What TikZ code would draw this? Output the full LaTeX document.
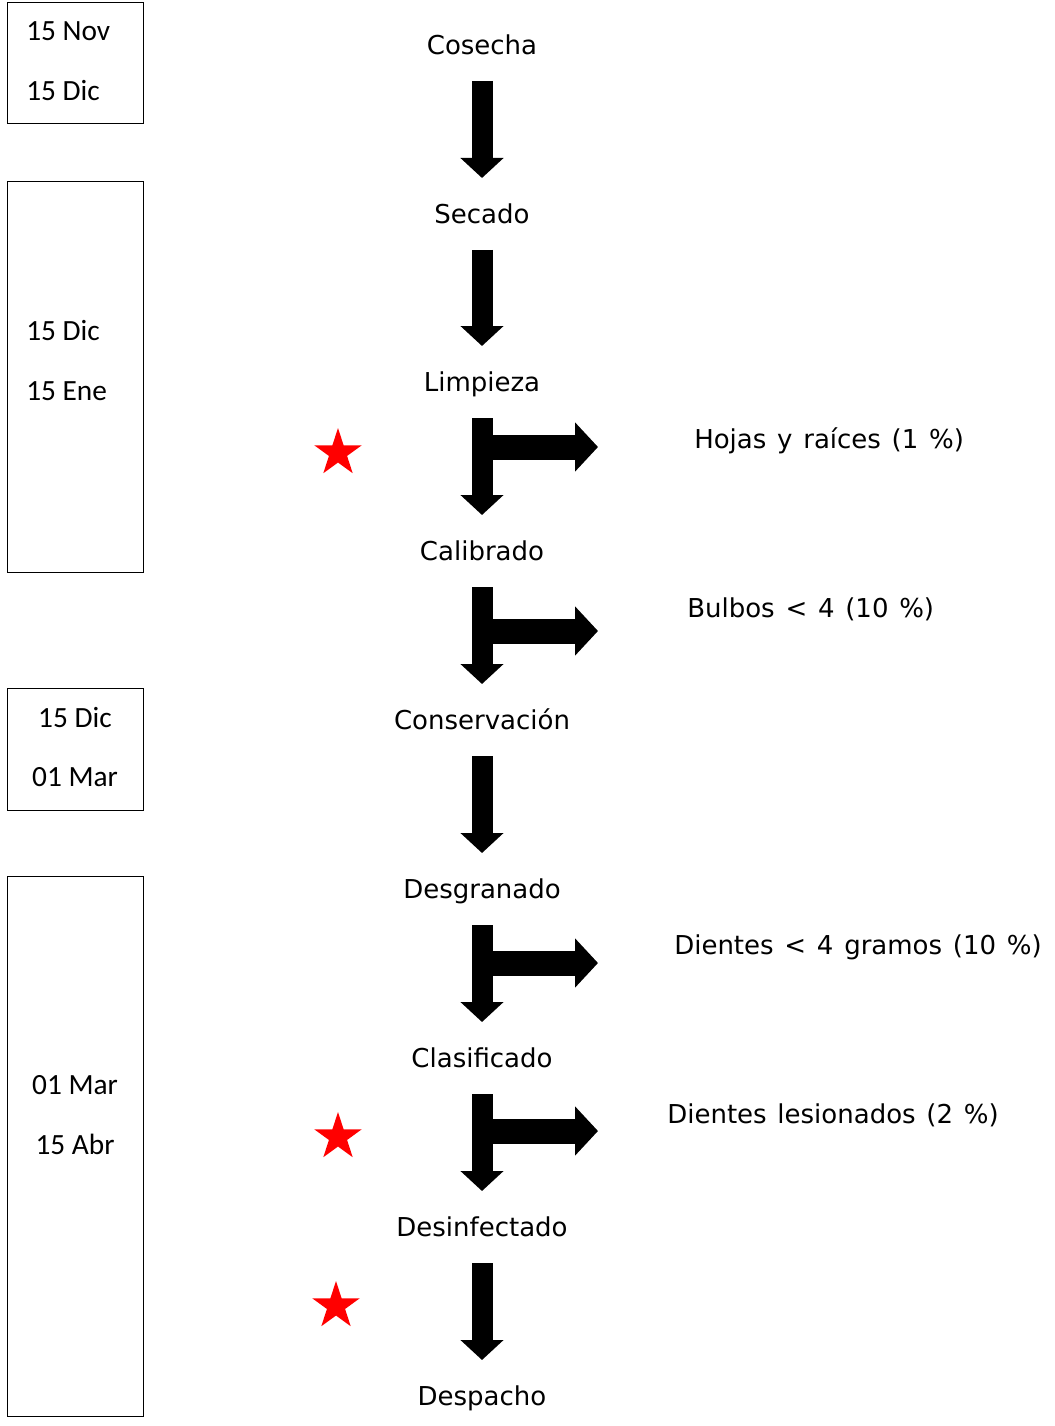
\documentclass[tikz,border=0pt]{standalone}
\usepackage{fontspec}
\setmainfont{DejaVu Sans}[WordSpace=1.3]
\newfontfamily\datefont{Carlito}
\usetikzlibrary{arrows.meta,shapes.geometric}

\begin{document}
\begin{tikzpicture}[x=0.75pt, y=-0.75pt,
  stepnode/.style={inner sep=0pt, text height=14.2pt, text depth=0pt, font=\fontsize{19.5}{23}\selectfont},
  outnode/.style={inner sep=0pt, anchor=west, text height=14.2pt, text depth=0pt, font=\fontsize{19.5}{23}\selectfont},
  datebox/.style={draw, line width=0.75pt, minimum width=102pt, inner sep=0pt},
  datetext/.style={inner sep=0pt, text height=14.2pt, text depth=0pt, font=\datefont\fontsize{22}{26}\selectfont},
  flow/.style={line width=15.75pt, -{Triangle[length=15pt, width=31.5pt]}, shorten <=27pt, shorten >=27pt},
  waste/.style={line width=18.75pt, -{Triangle[length=17.25pt, width=36pt]}},
  redstar/.style={star, star points=5, star point ratio=2.618, fill=red, minimum size=37.5pt, inner sep=0pt}
]
\useasboundingbox (0,0) rectangle (1054,1426);

% date boxes
\node[datebox, minimum height=90.75pt] (d1) at (75,63.5) {};
\node[datebox, minimum height=292.5pt] (d2) at (75,377) {};
\node[datebox, minimum height=91.5pt] (d3) at (75,749) {};
\node[datebox, minimum height=405pt] (d4) at (75,1146) {};
\node[datetext, anchor=west] (t1) at (26,31) {15 Nov};
\node[datetext, anchor=west] (t2) at (26,91) {15 Dic};
\node[datetext, anchor=west] (t3) at (26,331) {15 Dic};
\node[datetext, anchor=west] (t4) at (26,391) {15 Ene};
\node[datetext] (t5) at (75,718) {15 Dic};
\node[datetext] (t6) at (75,777) {01 Mar};
\node[datetext] (t7) at (75,1085) {01 Mar};
\node[datetext] (t8) at (75,1145) {15 Abr};

% process steps
\node[stepnode] (cosecha) at (482,45) {Cosecha};
\node[stepnode] (secado) at (482,214) {Secado};
\node[stepnode] (limpieza) at (482,382) {Limpieza};
\node[stepnode] (calibrado) at (482,551) {Calibrado};
\node[stepnode] (conservacion) at (482,720) {Conservación};
\node[stepnode] (desgranado) at (482,889) {Desgranado};
\node[stepnode] (clasificado) at (482,1058) {Clasificado};
\node[stepnode] (desinfectado) at (482,1227) {Desinfectado};
\node[stepnode] (despacho) at (482,1396) {Despacho};

\draw[flow] (cosecha.center) -- (secado.center);
\draw[flow] (secado.center) -- (limpieza.center);
\draw[flow] (limpieza.center) -- (calibrado.center);
\draw[flow] (calibrado.center) -- (conservacion.center);
\draw[flow] (conservacion.center) -- (desgranado.center);
\draw[flow] (desgranado.center) -- (clasificado.center);
\draw[flow] (clasificado.center) -- (desinfectado.center);
\draw[flow] (desinfectado.center) -- (despacho.center);

% losses
\coordinate (w1) at (598,447);
\coordinate (w2) at (598,631);
\coordinate (w3) at (598,963);
\coordinate (w4) at (598,1131);
\draw[waste] (limpieza |- w1) -- (w1);
\draw[waste] (calibrado |- w2) -- (w2);
\draw[waste] (desgranado |- w3) -- (w3);
\draw[waste] (clasificado |- w4) -- (w4);
\node[outnode] (hojas) at (694,439) {Hojas y raíces (1 \%)};
\node[outnode] (bulbos) at (687,608) {Bulbos < 4 (10 \%)};
\node[outnode] (dientes) at (674,945) {Dientes < 4 gramos (10 \%)};
\node[outnode] (lesionados) at (667,1114) {Dientes lesionados (2 \%)};

% critical points
\node[redstar] (s1) at (338,453) {};
\node[redstar] (s2) at (338,1137) {};
\node[redstar] (s3) at (336,1306) {};
\end{tikzpicture}
\end{document}
